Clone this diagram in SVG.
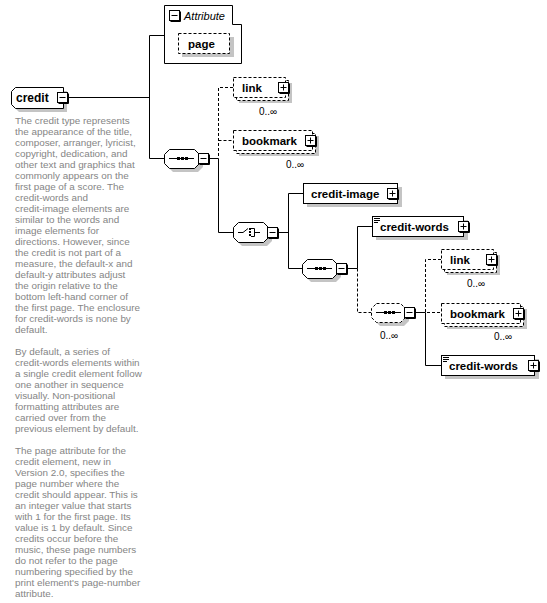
<svg xmlns="http://www.w3.org/2000/svg" xmlns:xlink="http://www.w3.org/1999/xlink" width="547" height="603" viewBox="0 0 547 603">
<style>
.bx{fill:#fff;stroke:#000;stroke-width:1}
.dsh{stroke-dasharray:3,2}
.sh{fill:#c4c4c4;stroke:none}
.lbl{font-family:"Liberation Sans",Arial,sans-serif;font-weight:bold;font-size:11.5px;fill:#000}
.occ{font-family:"Liberation Sans",Arial,sans-serif;font-size:10px;fill:#000}
.desc{font-family:"Liberation Sans",Arial,sans-serif;font-size:9.9px;fill:#858585}
.it{font-family:"Liberation Sans",Arial,sans-serif;font-style:italic;font-size:11px;fill:#000}
#connectors line,#connectors polyline{stroke:#000;stroke-width:1;fill:none}
.ic{stroke:#000;stroke-width:1;fill:none}
</style>
<defs>
<g id="minus"><rect x="0.5" y="0.5" width="10" height="10" class="bx"/><path d="M11.5 1.5V11.5H1.5" class="ic"/><path d="M2.5 5.5H8.5" class="ic"/></g>
<g id="plus"><rect x="0.5" y="0.5" width="10" height="10" class="bx"/><path d="M11.5 1.5V11.5H1.5" class="ic"/><path d="M2.5 5.5H8.5M5.5 2.5V8.5" class="ic"/></g>
<g id="seqicon"><path d="M0 0.5H25" class="ic"/><rect x="8" y="-1" width="3" height="3"/><rect x="12" y="-1" width="3" height="3"/><rect x="16" y="-1" width="3" height="3"/></g>
<g id="txticon"><path d="M0 0.5H6M0 2.5H6M0 4.5H4" class="ic"/></g>
</defs>

<g id="connectors">
<polyline points="68,97.5 149.5,97.5"/>
<polyline points="164,35.5 149.5,35.5 149.5,158.5 164,158.5"/>
<line x1="209" y1="158.5" x2="218.5" y2="158.5"/>
<polyline class="dsh" points="233,87.5 218.5,87.5 218.5,158"/>
<line class="dsh" x1="218.5" y1="140.5" x2="233" y2="140.5"/>
<polyline points="218.5,158.5 218.5,232.5 233,232.5"/>
<line x1="278" y1="232.5" x2="288.5" y2="232.5"/>
<polyline points="303,193.5 288.5,193.5 288.5,268.5 302,268.5"/>
<line x1="347" y1="268.5" x2="357.5" y2="268.5"/>
<polyline points="372,226.5 357.5,226.5 357.5,268.5"/>
<polyline class="dsh" points="357.5,268.5 357.5,312.5 371,312.5"/>
<line x1="415" y1="312.5" x2="425.5" y2="312.5"/>
<polyline class="dsh" points="441,259.5 425.5,259.5 425.5,312.5 441,312.5"/>
<polyline points="425.5,312.5 425.5,365.5 441,365.5"/>
</g>

<g id="credit">
<path class="sh" d="M19 91H67V112H19L15 108V95Z"/>
<path class="bx" d="M15.5 87.5H63.5V108.5H15.5L11.5 104.5V91.5Z"/>
<text class="lbl" x="16" y="102" style="font-size:12px">credit</text>
<use xlink:href="#minus" x="57" y="92"/>
<text class="desc">
<tspan x="15" y="124">The credit type represents</tspan>
<tspan x="15" y="135">the appearance of the title,</tspan>
<tspan x="15" y="146">composer, arranger, lyricist,</tspan>
<tspan x="15" y="157">copyright, dedication, and</tspan>
<tspan x="15" y="168">other text and graphics that</tspan>
<tspan x="15" y="179">commonly appears on the</tspan>
<tspan x="15" y="190">first page of a score. The</tspan>
<tspan x="15" y="201">credit-words and</tspan>
<tspan x="15" y="212">credit-image elements are</tspan>
<tspan x="15" y="223">similar to the words and</tspan>
<tspan x="15" y="234">image elements for</tspan>
<tspan x="15" y="245">directions. However, since</tspan>
<tspan x="15" y="256">the credit is not part of a</tspan>
<tspan x="15" y="267">measure, the default-x and</tspan>
<tspan x="15" y="278">default-y attributes adjust</tspan>
<tspan x="15" y="289">the origin relative to the</tspan>
<tspan x="15" y="300">bottom left-hand corner of</tspan>
<tspan x="15" y="311">the first page. The enclosure</tspan>
<tspan x="15" y="322">for credit-words is none by</tspan>
<tspan x="15" y="333">default.</tspan>
<tspan x="15" y="355">By default, a series of</tspan>
<tspan x="15" y="366">credit-words elements within</tspan>
<tspan x="15" y="377">a single credit element follow</tspan>
<tspan x="15" y="388">one another in sequence</tspan>
<tspan x="15" y="399">visually. Non-positional</tspan>
<tspan x="15" y="410">formatting attributes are</tspan>
<tspan x="15" y="421">carried over from the</tspan>
<tspan x="15" y="432">previous element by default.</tspan>
<tspan x="15" y="454">The page attribute for the</tspan>
<tspan x="15" y="465">credit element, new in</tspan>
<tspan x="15" y="476">Version 2.0, specifies the</tspan>
<tspan x="15" y="487">page number where the</tspan>
<tspan x="15" y="498">credit should appear. This is</tspan>
<tspan x="15" y="509">an integer value that starts</tspan>
<tspan x="15" y="520">with 1 for the first page. Its</tspan>
<tspan x="15" y="531">value is 1 by default. Since</tspan>
<tspan x="15" y="542">credits occur before the</tspan>
<tspan x="15" y="553">music, these page numbers</tspan>
<tspan x="15" y="564">do not refer to the page</tspan>
<tspan x="15" y="575">numbering specified by the</tspan>
<tspan x="15" y="586">print element's page-number</tspan>
<tspan x="15" y="597">attribute.</tspan>
</text>
</g>

<g id="attributes">
<path class="bx" d="M164.5 5.5H232.5V24.5H241.5V63.5H164.5Z"/>
<use xlink:href="#minus" x="169" y="10"/>
<text class="it" x="184" y="20">Attribute</text>
</g>

<g id="page">
<rect class="sh" x="182" y="37" width="52" height="20"/>
<rect class="bx dsh" x="178.5" y="33.5" width="51" height="20"/>
<text class="lbl" x="188" y="48">page</text>
</g>

<g id="sequence1">
<path class="sh" d="M173 153H198L203 158V167L198 172H173L168 167V158Z"/>
<path class="bx" d="M169.5 149.5H194.5L199.5 154.5V163.5L194.5 168.5H169.5L164.5 163.5V154.5Z"/>
<use xlink:href="#seqicon" x="169" y="158"/>
<use xlink:href="#minus" x="198" y="153"/>
</g>

<g id="link1">
<rect class="sh" x="239" y="83" width="53" height="20"/>
<rect class="bx dsh" x="236.5" y="80.5" width="52" height="20"/>
<rect class="bx dsh" x="233.5" y="77.5" width="52" height="20"/>
<text class="lbl" x="242" y="92">link</text>
<use xlink:href="#plus" x="278" y="82"/>
<text class="occ" x="259" y="115">0..∞</text>
</g>

<g id="bookmark1">
<rect class="sh" x="239" y="136" width="80" height="20"/>
<rect class="bx dsh" x="236.5" y="133.5" width="79" height="20"/>
<rect class="bx dsh" x="233.5" y="130.5" width="79" height="20"/>
<text class="lbl" x="242" y="145">bookmark</text>
<use xlink:href="#plus" x="305" y="135"/>
<text class="occ" x="286" y="168">0..∞</text>
</g>

<g id="choice">
<path class="sh" d="M242 226H267L272 231V241L267 246H242L237 241V231Z"/>
<path class="bx" d="M238.5 222.5H263.5L268.5 227.5V237.5L263.5 242.5H238.5L233.5 237.5V227.5Z"/>
<path class="ic" d="M238 232.5H243L248 228.5M254.5 228.5V236.5M251 228.5H254.5M251 236.5H254.5M254.5 232.5H260"/>
<rect x="249" y="228" width="2" height="2"/>
<rect x="249" y="231" width="2" height="2"/>
<rect x="249" y="234" width="2" height="2"/>
<use xlink:href="#minus" x="267" y="227"/>
</g>

<g id="credit-image">
<rect class="sh" x="307" y="187" width="95" height="20"/>
<rect class="bx" x="303.5" y="183.5" width="94" height="20"/>
<text class="lbl" x="311" y="198">credit-image</text>
<use xlink:href="#plus" x="387" y="188"/>
</g>

<g id="sequence2">
<path class="sh" d="M311 263H336L341 268V277L336 282H311L306 277V268Z"/>
<path class="bx" d="M307.5 259.5H332.5L337.5 264.5V273.5L332.5 278.5H307.5L302.5 273.5V264.5Z"/>
<use xlink:href="#seqicon" x="307" y="268"/>
<use xlink:href="#minus" x="336" y="263"/>
</g>

<g id="credit-words1">
<rect class="sh" x="376" y="220" width="92" height="20"/>
<rect class="bx" x="372.5" y="216.5" width="91" height="20"/>
<use xlink:href="#txticon" x="374" y="218"/>
<text class="lbl" x="380" y="231">credit-words</text>
<use xlink:href="#plus" x="458" y="221"/>
</g>

<g id="sequence3">
<path class="sh" d="M380 307H404L409 312V321L404 326H380L375 321V312Z"/>
<path class="bx dsh" d="M376.5 303.5H400.5L405.5 308.5V317.5L400.5 322.5H376.5L371.5 317.5V308.5Z"/>
<use xlink:href="#seqicon" x="376" y="312"/>
<use xlink:href="#minus" x="404" y="307"/>
<text class="occ" x="380" y="339">0..∞</text>
</g>

<g id="link2">
<rect class="sh" x="447" y="255" width="53" height="20"/>
<rect class="bx dsh" x="444.5" y="252.5" width="52" height="20"/>
<rect class="bx dsh" x="441.5" y="249.5" width="52" height="20"/>
<text class="lbl" x="450" y="264">link</text>
<use xlink:href="#plus" x="486" y="254"/>
<text class="occ" x="467" y="287">0..∞</text>
</g>

<g id="bookmark2">
<rect class="sh" x="447" y="309" width="80" height="20"/>
<rect class="bx dsh" x="444.5" y="306.5" width="79" height="20"/>
<rect class="bx dsh" x="441.5" y="303.5" width="79" height="20"/>
<text class="lbl" x="450" y="318">bookmark</text>
<use xlink:href="#plus" x="513" y="308"/>
<text class="occ" x="494" y="340">0..∞</text>
</g>

<g id="credit-words2">
<rect class="sh" x="445" y="359" width="94" height="20"/>
<rect class="bx" x="441.5" y="355.5" width="93" height="20"/>
<use xlink:href="#txticon" x="443" y="357"/>
<text class="lbl" x="449" y="370">credit-words</text>
<use xlink:href="#plus" x="528" y="360"/>
</g>
</svg>
